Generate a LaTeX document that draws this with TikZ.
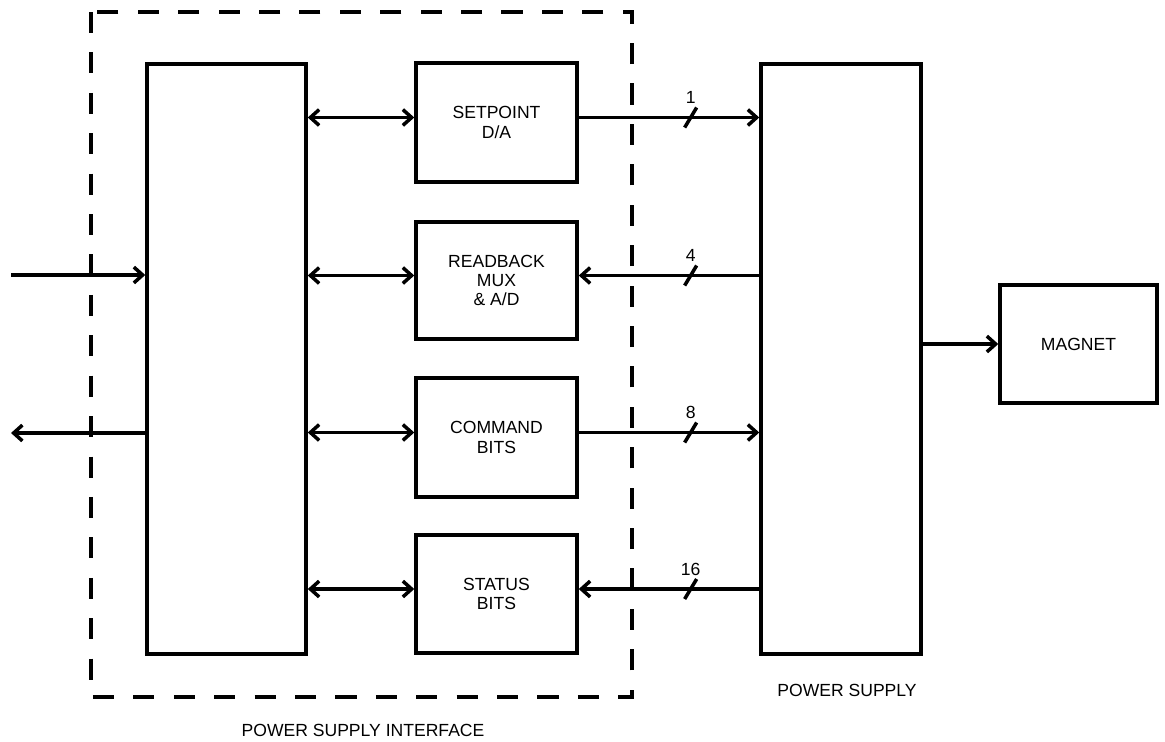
\documentclass[tikz,border=0pt]{standalone}
\usepackage{fontspec}
\setmainfont{Liberation Sans}
\usetikzlibrary{positioning,arrows.meta,calc}

\begin{document}
\begin{tikzpicture}[
  x=0.02cm, y=-0.02cm,
  font=\fontsize{10}{11}\selectfont,
  box/.style={draw, line width=2pt, align=center, inner sep=0pt},
  arr/.style={-{Straight Barb[length=5pt,width=9pt]}, line width=2pt},
  dbl/.style={{Straight Barb[length=5pt,width=9pt]}-{Straight Barb[length=5pt,width=9pt]}, line width=2pt},
  tick/.style={line width=2pt},
  frame/.style={line width=2pt, dash pattern=on 12pt off 11pt}
]
\useasboundingbox (0,0) rectangle (1165,741);

% interface
\draw[frame] (91,12) rectangle (632,697);
\node[box, minimum width=3.18cm, minimum height=11.8cm] (iface) at (226.5,359) {};
\node[box, minimum width=3.22cm, minimum height=2.38cm] (setpt) at (496.5,122.5) {SETPOINT\\D/A};
\node[box, minimum width=3.22cm, minimum height=2.34cm] (readbk) at (496.5,280.5) {READBACK\\MUX\\\& A/D};
\node[box, minimum width=3.22cm, minimum height=2.38cm] (cmd) at (496.5,437.5) {COMMAND\\BITS};
\node[box, minimum width=3.22cm, minimum height=2.36cm] (stat) at (496.5,594) {STATUS\\BITS};
\node (ifacelbl) at (363,730) {POWER SUPPLY INTERFACE};

% power supply and magnet
\node[box, minimum width=3.2cm, minimum height=11.8cm] (psup) at (841,359) {};
\node[box, minimum width=3.14cm, minimum height=2.36cm] (mag) at (1078.5,344) {MAGNET};
\node (pslbl) at (847,690) {POWER SUPPLY};

% host lines
\coordinate (hin) at (11,275);
\coordinate (hout) at (11,433);
\draw[arr] (hin) -- (hin -| iface.west);
\draw[arr] (hout -| iface.west) -- (hout);

% internal bus
\foreach \b in {setpt,readbk,cmd,stat}{
  \coordinate (\b-y) at ([yshift=0.1cm]\b.west);
  \draw[dbl] (\b-y -| iface.east) -- (\b-y);
}

% field wiring
\coordinate (sp-r) at ([yshift=0.1cm]setpt.east);
\coordinate (rb-r) at ([yshift=0.1cm]readbk.east);
\coordinate (cm-r) at ([yshift=0.1cm]cmd.east);
\coordinate (st-r) at ([yshift=0.1cm]stat.east);
\draw[arr] (sp-r) -- coordinate[pos=0.62] (b1) (sp-r -| psup.west);
\draw[arr] (rb-r -| psup.west) -- coordinate[pos=0.38] (b2) (rb-r);
\draw[arr] (cm-r) -- coordinate[pos=0.62] (b3) (cm-r -| psup.west);
\draw[arr] (st-r -| psup.west) -- coordinate[pos=0.38] (b4) (st-r);
\foreach \t/\n in {b1/1,b2/4,b3/8,b4/16}{
  \draw[tick] ([shift={(-6,10)}]\t) -- ([shift={(6,-10)}]\t);
  \node (\t-lbl) at ([yshift=0.4cm]\t) {\n};
}

\draw[arr] (psup.east |- mag.west) -- (mag.west);
\end{tikzpicture}
\end{document}
